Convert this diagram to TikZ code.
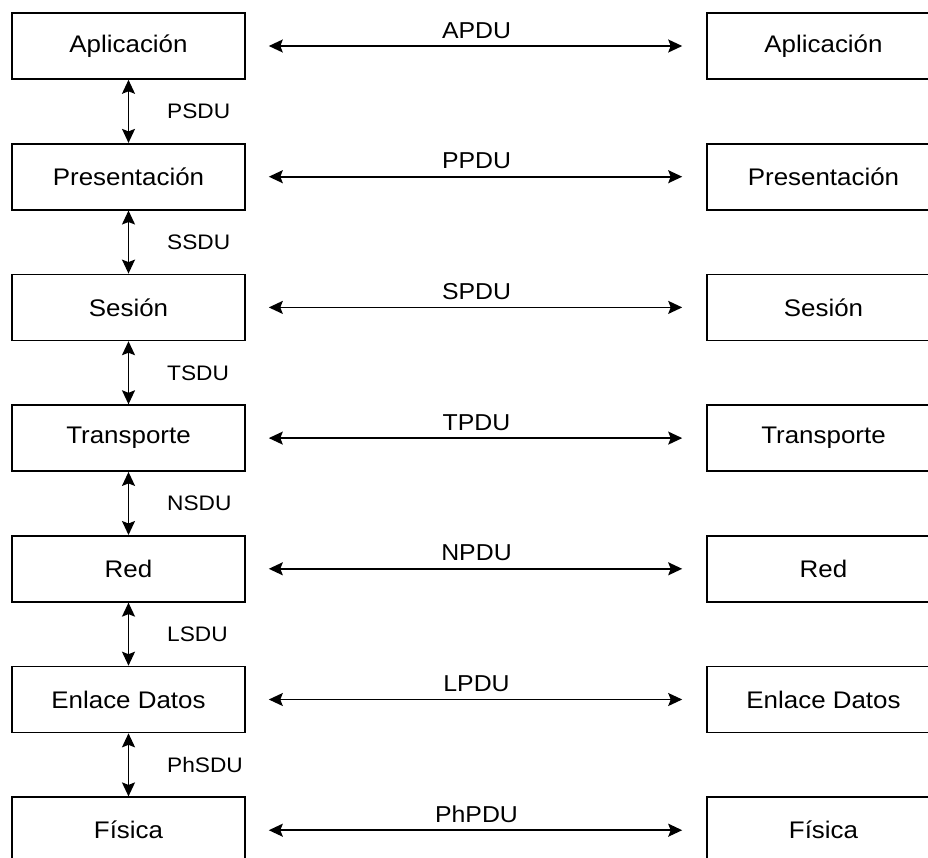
\documentclass[tikz,border=0pt]{standalone}
\usepackage{fontspec}
\setmainfont{Liberation Sans}[FakeStretch=1.08]
\usetikzlibrary{arrows.meta}
\tikzset{
  layer/.style={draw, line width=1.6pt, minimum width=233pt, minimum height=66pt, inner sep=0pt, font=\fontsize{24}{28}\selectfont},
  peer/.style={line width=1.6pt, {Stealth[length=14pt,width=13pt,inset=2.5pt]}-{Stealth[length=14pt,width=13pt,inset=2.5pt]}, shorten <=23pt, shorten >=24pt},
  iface/.style={line width=1.6pt, {Stealth[length=14pt,width=13pt,inset=2.5pt]}-{Stealth[length=14pt,width=13pt,inset=2.5pt]}},
  pdu/.style={anchor=base, inner sep=0pt, font=\fontsize{23}{27}\selectfont},
  sdu/.style={anchor=west, inner sep=0pt, font=\fontsize{21}{25}\selectfont}
}
\begin{document}
\begin{tikzpicture}[x=1pt,y=-1pt]
\clip (0,0) rectangle (928,857);
\fill[white] (0,0) rectangle (928,857);
\foreach \i/\name/\pdu in {0/Aplicación/APDU,1/Presentación/PPDU,2/Sesión/SPDU,3/Transporte/TPDU,4/Red/NPDU,5/Enlace Datos/LPDU,6/Física/PhPDU}{
  \node[layer] (L\i) at (128.5,{46+130.7*\i}) {\name};
  \node[layer] (R\i) at (823.5,{46+130.7*\i}) {\name};
  \draw[peer] (L\i.east) -- (R\i.west);
  \node[pdu] (P\i) at (476.5,{38+130.7*\i}) {\pdu};
}
\foreach \i/\j/\sdu in {0/1/PSDU,1/2/SSDU,2/3/TSDU,3/4/NSDU,4/5/LSDU,5/6/PhSDU}{
  \draw[iface] (L\i.south) -- (L\j.north);
  \node[sdu] (S\i) at (167,{111.5+130.7*\i}) {\sdu};
}
\end{tikzpicture}
\end{document}
